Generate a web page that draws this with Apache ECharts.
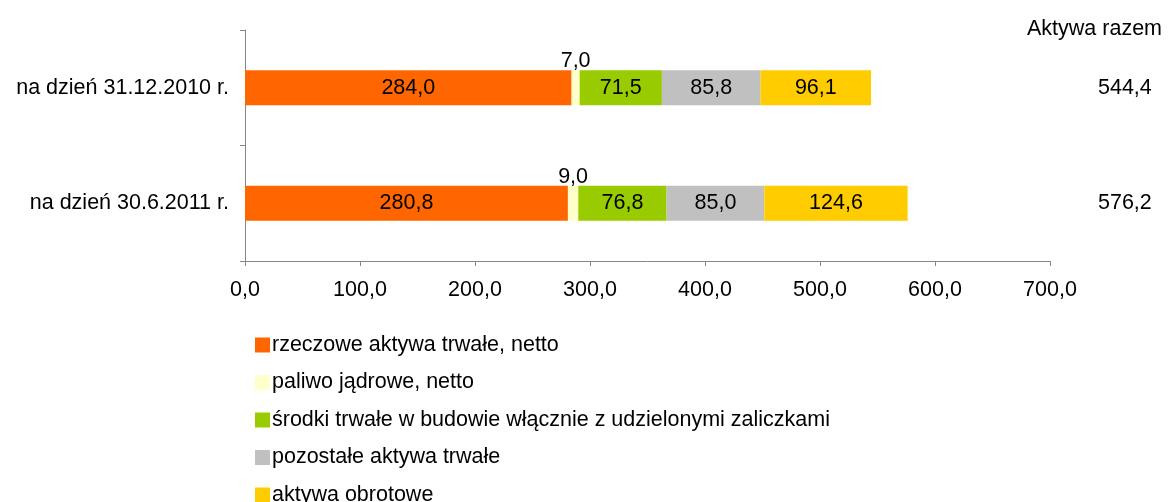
<!DOCTYPE html>
<html>
<head>
    <meta charset="utf-8">
    <title>Aktywa</title>
    <script src="https://cdn.jsdelivr.net/npm/echarts@6/dist/echarts.min.js"></script>
    <style>
        html, body { margin: 0; padding: 0; background: #fff; }
    </style>
</head>
<body>
    <div id="main" style="width: 1168px;height:502px;"></div>
    <script type="text/javascript">
        var categories = ['na dzień 31.12.2010 r.', 'na dzień 30.6.2011 r.'];
        var seriesNames = [
            'rzeczowe aktywa trwałe, netto',
            'paliwo jądrowe, netto',
            'środki trwałe w budowie włącznie z udzielonymi zaliczkami',
            'pozostałe aktywa trwałe',
            'aktywa obrotowe'
        ];
        var rzeczowe = [284.0, 280.8];
        var paliwo = [7.0, 9.0];
        var srodki = [71.5, 76.8];
        var pozostale = [85.8, 85.0];
        var obrotowe = [96.1, 124.6];
        var totals = [544.4, 576.2];
        var colors = ['#ff6600', '#ffffcc', '#99cc00', '#c0c0c0', '#ffcc00'];

        var font = 'Liberation Sans, Arial, sans-serif';
        var fs = 21.5;
        function fmt(v) {
            return Number(v).toFixed(1).replace('.', ',');
        }

        var myChart = echarts.init(document.getElementById('main'));

        function barSeries(idx, data, labelPos) {
            return {
                name: seriesNames[idx],
                type: 'bar',
                stack: 'total',
                barWidth: 35,
                data: data,
                itemStyle: { color: colors[idx] },
                label: {
                    show: true,
                    position: labelPos,
                    distance: labelPos === 'top' ? -2 : 0,
                    color: '#000',
                    fontFamily: font,
                    fontSize: fs,
                    formatter: function (p) { return fmt(p.value); }
                }
            };
        }

        var option = {
            animation: false,
            backgroundColor: '#fff',
            color: colors,
            title: {
                text: 'Aktywa razem',
                right: 1,
                top: 13,
                textStyle: { fontFamily: font, fontSize: fs, fontWeight: 'normal', color: '#000' }
            },
            legend: {
                orient: 'vertical',
                left: 250,
                top: 329,
                height: 300,
                itemWidth: 15,
                itemHeight: 15,
                itemGap: 15.5,
                icon: 'rect',
                textStyle: { fontFamily: font, fontSize: fs, lineHeight: 20, color: '#000', padding: [0, 0, 0, -3] },
                data: seriesNames
            },
            grid: {
                left: 245,
                right: 118,
                top: 30,
                bottom: 241
            },
            xAxis: {
                type: 'value',
                min: 0,
                max: 700,
                interval: 100,
                splitLine: { show: false },
                axisLine: { show: true, lineStyle: { color: '#868686' } },
                axisTick: { show: true, length: 5, lineStyle: { color: '#868686' } },
                axisLabel: {
                    margin: 18,
                    color: '#000',
                    fontFamily: font,
                    fontSize: fs,
                    formatter: fmt
                }
            },
            yAxis: [{
                type: 'category',
                inverse: true,
                data: categories,
                axisLine: { show: true, lineStyle: { color: '#868686' } },
                axisTick: { show: true, length: 5, lineStyle: { color: '#868686' } },
                axisLabel: {
                    margin: 16,
                    color: '#000',
                    fontFamily: font,
                    fontSize: fs
                }
            }, {
                type: 'category',
                inverse: true,
                position: 'right',
                data: totals.map(fmt),
                axisLine: { show: false },
                axisTick: { show: false },
                axisLabel: {
                    margin: 48,
                    color: '#000',
                    fontFamily: font,
                    fontSize: fs
                }
            }],
            series: [
                barSeries(0, rzeczowe, 'inside'),
                barSeries(1, paliwo, 'top'),
                barSeries(2, srodki, 'inside'),
                barSeries(3, pozostale, 'inside'),
                barSeries(4, obrotowe, 'inside')
            ]
        };

        myChart.setOption(option);
    </script>
</body>
</html>
